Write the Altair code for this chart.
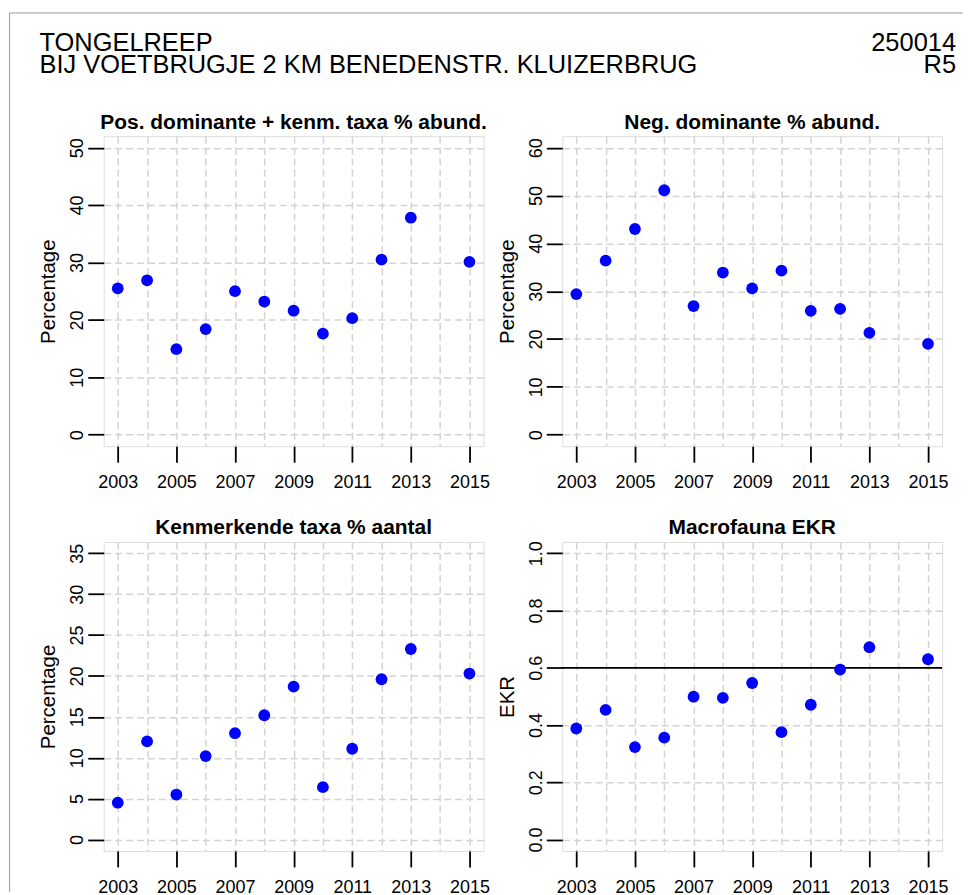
import altair as alt
import pandas as pd

# ---------------- data ----------------
YEARS = [2003, 2004, 2005, 2006, 2007, 2008, 2009, 2010, 2011, 2012, 2013, 2015]
POS_DOM = [25.5, 26.9, 14.9, 18.4, 25.0, 23.2, 21.6, 17.6, 20.3, 30.5, 37.8, 30.1]
NEG_DOM = [29.4, 36.4, 43.0, 51.1, 26.9, 33.9, 30.6, 34.3, 25.9, 26.3, 21.3, 19.0]
KENM = [4.5, 12.0, 5.5, 10.2, 13.0, 15.2, 18.7, 6.4, 11.1, 19.6, 23.3, 20.3]
EKR = [0.388, 0.453, 0.323, 0.356, 0.499, 0.495, 0.547, 0.375, 0.471, 0.594, 0.672, 0.630]
EKR_TARGET = [0.6]

GRID_YEARS = list(range(2003, 2016))
TITLES = ["Pos. dominante + kenm. taxa % abund.", "Neg. dominante % abund.",
          "Kenmerkende taxa % aantal", "Macrofauna EKR"]
Y_TITLES = ["Percentage", "Percentage", "Percentage", "EKR"]
Y_LIMITS = [(0, 50), (0, 60), (0, 35), (0, 1)]
Y_TICKS = [[0, 10, 20, 30, 40, 50], [0, 10, 20, 30, 40, 50, 60],
           [0, 5, 10, 15, 20, 25, 30, 35], [0.0, 0.2, 0.4, 0.6, 0.8, 1.0]]
Y_FORMATS = ["d", "d", "d", ".1f"]
HEADER_LEFT = ["TONGELREEP", "BIJ VOETBRUGJE 2 KM BENEDENSTR. KLUIZERBRUG"]
HEADER_RIGHT = ["250014", "R5"]

FONT = "Liberation Sans"
W = 381
HEIGHTS = [311, 311, 310, 310]


def one_row(text):
    return pd.DataFrame({"t": [text]})


def panel(i, values, extra=None):
    lo, hi = Y_LIMITS[i]
    ext = 0.04 * (hi - lo)
    h = HEIGHTS[i]
    x = alt.X(
        "year:Q",
        title=None,
        scale=alt.Scale(domain=[2003 - 0.48, 2015 + 0.48], nice=False, zero=False),
        axis=alt.Axis(
            values=GRID_YEARS, format="d",
            labelExpr="datum.value % 2 == 1 ? datum.label : ''",
            tickOpacity={"condition": {"test": "datum.value % 2 == 0", "value": 0}, "value": 1},
            labelFontSize=18, labelFont=FONT, labelColor="black",
            labelBaseline="alphabetic", labelPadding=25.6, labelOverlap=False,
            labelFlush=False, tickSize=16, tickWidth=1.8, tickColor="black",
            domain=False, grid=True, gridColor="#d3d3d3", gridDash=[7, 4], gridWidth=1.5,
        ),
    )
    y = alt.Y(
        "value:Q",
        title=Y_TITLES[i],
        scale=alt.Scale(domain=[lo - ext, hi + ext], nice=False, zero=False),
        axis=alt.Axis(
            values=Y_TICKS[i], format=Y_FORMATS[i],
            labelAngle=270, labelAlign="center", labelBaseline="alphabetic",
            labelPadding=5, labelFontSize=18, labelFont=FONT, labelColor="black",
            labelOverlap=False, labelFlush=False,
            tickSize=16, tickWidth=1.8, tickColor="black", domain=False,
            grid=True, gridColor="#d3d3d3", gridDash=[7, 4], gridWidth=1.5,
            titleAngle=270, titleAlign="center", titleBaseline="alphabetic",
            titleX=-49.1, titleY=h / 2, titleFontSize=20.5, titleFont=FONT,
            titleFontWeight="normal", titleColor="black",
        ),
    )
    df = pd.DataFrame({"year": YEARS, "value": values})
    pts = alt.Chart(df).mark_circle(size=140, color="#0000ff", opacity=1).encode(x=x, y=y)
    title = alt.Chart(one_row(TITLES[i])).mark_text(
        align="center", baseline="alphabetic", fontSize=21, fontWeight="bold",
        font=FONT, color="black").encode(text="t:N", x=alt.value(W / 2), y=alt.value(-7.6))
    layers = []
    if i == 3:
        rule = alt.Chart(pd.DataFrame({"value": EKR_TARGET})).mark_rule(
            color="black", strokeWidth=1.8).encode(y=y)
        layers.append(rule)
    layers.append(pts)
    layers.append(title)
    if extra:
        layers.extend(extra)
    return alt.layer(*layers).properties(width=W, height=h)


# header texts and frame (decoration), placed relative to panel 1 / panel 2
hdr1 = [
    alt.Chart(one_row(t)).mark_text(align="left", baseline="alphabetic", fontSize=25.5,
                                    font=FONT, color="black").encode(
        text="t:N", x=alt.value(-64.4), y=alt.value(yy))
    for t, yy in zip(HEADER_LEFT, [-85.0, -63.6])
]
frame = [
    alt.Chart(one_row("f")).mark_rule(color="#999999", strokeWidth=1).encode(
        x=alt.value(-94.4), x2=alt.value(862.0), y=alt.value(-123.6)),
    alt.Chart(one_row("f")).mark_rule(color="#999999", strokeWidth=1).encode(
        x=alt.value(-94.4), y=alt.value(-123.6), y2=alt.value(758.0)),
]
hdr2 = [
    alt.Chart(one_row(t)).mark_text(align="right", baseline="alphabetic", fontSize=25.5,
                                    font=FONT, color="black").encode(
        text="t:N", x=alt.value(395.0), y=alt.value(yy))
    for t, yy in zip(HEADER_RIGHT, [-85.0, -63.6])
]

p1 = panel(0, POS_DOM, frame + hdr1)
p2 = panel(1, NEG_DOM, hdr2)
p3 = panel(2, KENM)
p4 = panel(3, EKR)

chart = alt.concat(p1, p2, p3, p4, columns=2, spacing={"row": 96, "column": 79},
                   bounds="flush").properties(
    padding={"left": 0, "top": 2.2, "right": 0, "bottom": 0},
    background="white",
).configure_view(stroke="black", strokeWidth=1.8).configure(font=FONT)

chart.save("out.html", embed_options={"renderer": "svg", "actions": False})
